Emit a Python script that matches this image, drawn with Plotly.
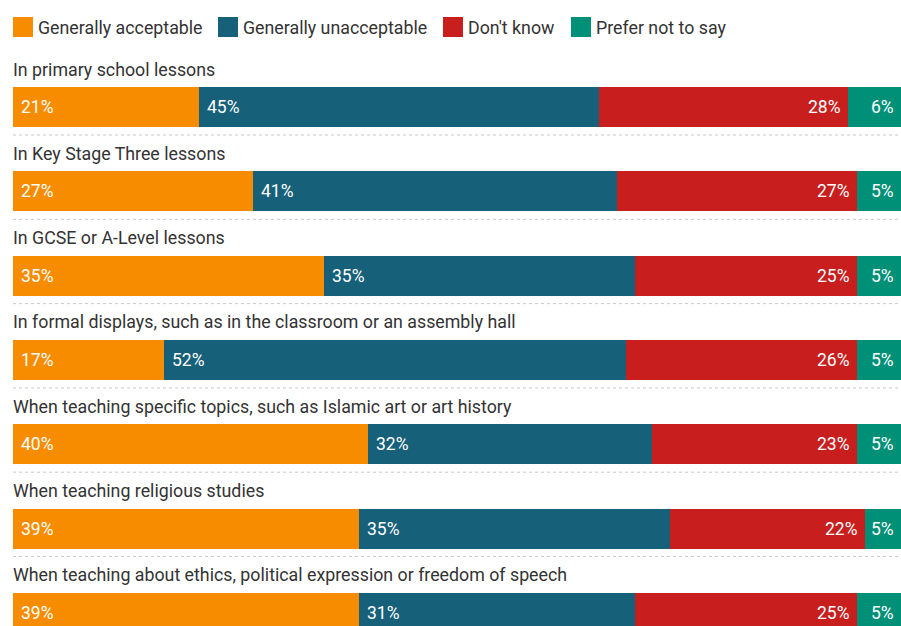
import plotly.graph_objects as go

# Survey responses: share of respondents (%) per context
categories = [
    "In primary school lessons",
    "In Key Stage Three lessons",
    "In GCSE or A-Level lessons",
    "In formal displays, such as in the classroom or an assembly hall",
    "When teaching specific topics, such as Islamic art or art history",
    "When teaching religious studies",
    "When teaching about ethics, political expression or freedom of speech",
]
series_names = ["Generally acceptable", "Generally unacceptable", "Don't know", "Prefer not to say"]
acceptable = [21, 27, 35, 17, 40, 39, 39]
unacceptable = [45, 41, 35, 52, 32, 35, 31]
dont_know = [28, 27, 25, 26, 23, 22, 25]
prefer_not = [6, 5, 5, 5, 5, 5, 5]

series_values = [acceptable, unacceptable, dont_know, prefer_not]
colors = ["#F88C00", "#17607A", "#C81E1E", "#009077"]

FONT = "Roboto"
TEXT_COLOR = "#333333"
W, H = 901, 626
ML, MT = 13, 45
ROW_PX = 84.3          # vertical distance between rows
FIRST_CENTER_PX = 107  # centre of first bar
BAR_PX = 40

rows = list(range(len(categories)))
y_top = -(FIRST_CENTER_PX - MT) / ROW_PX
y_bottom = (H - FIRST_CENTER_PX) / ROW_PX

fig = go.Figure()
annotations = []
shapes = []

base = [0] * len(categories)
for name, vals, col in zip(series_names, series_values, colors):
    fig.add_trace(go.Bar(
        y=rows, x=vals, base=base, orientation="h", name=name,
        marker=dict(color=col, line=dict(width=0)),
        width=BAR_PX / ROW_PX, showlegend=False, hoverinfo="x+name",
    ))
    left_aligned = name in ("Generally acceptable", "Generally unacceptable")
    for r, (b, v) in enumerate(zip(base, vals)):
        if left_aligned:
            annotations.append(dict(
                x=b, y=r, xref="x", yref="y", text=f"{v}%", showarrow=False,
                xanchor="left", xshift=6, yanchor="middle",
                font=dict(family=FONT, size=17.5, color="white")))
        else:
            annotations.append(dict(
                x=min(b + v, 100), y=r, xref="x", yref="y", text=f"{v}%", showarrow=False,
                xanchor="right", xshift=-5, yanchor="middle",
                font=dict(family=FONT, size=17.5, color="white")))
    base = [b + v for b, v in zip(base, vals)]

# Row titles above each bar and dotted separators below
for r, cat in enumerate(categories):
    annotations.append(dict(
        x=0, y=r - 38 / ROW_PX, xref="paper", yref="y", text=cat, showarrow=False,
        xanchor="left", xshift=-2, yanchor="middle",
        font=dict(family=FONT, size=17.8, color=TEXT_COLOR)))
    if r < len(categories) - 1:
        shapes.append(dict(
            type="line", xref="paper", yref="y", x0=0, x1=1,
            y0=r + 28 / ROW_PX, y1=r + 28 / ROW_PX,
            line=dict(color="#C8C8C8", width=1, dash="dot")))

# Legend row built from swatches and labels
plot_w = W - ML
plot_h = H - MT
swatch_px = [13, 218, 443, 571]
for name, col, sx in zip(series_names, colors, swatch_px):
    x0 = (sx - ML) / plot_w
    x1 = (sx + 20 - ML) / plot_w
    shapes.append(dict(
        type="rect", xref="paper", yref="paper", x0=x0, x1=x1,
        y0=1 + (MT - 37) / plot_h, y1=1 + (MT - 17) / plot_h,
        fillcolor=col, line=dict(width=0)))
    annotations.append(dict(
        x=(sx + 25 - ML) / plot_w, y=1 + (MT - 27) / plot_h, xref="paper", yref="paper",
        text=name, showarrow=False, xanchor="left", xshift=-2, yanchor="middle",
        font=dict(family=FONT, size=17.8, color=TEXT_COLOR)))

fig.update_layout(
    width=W, height=H,
    margin=dict(l=ML, r=0, t=MT, b=0, pad=0),
    paper_bgcolor="white", plot_bgcolor="white",
    barmode="overlay", bargap=0,
    xaxis=dict(range=[0, 100], visible=False, fixedrange=True),
    yaxis=dict(range=[y_bottom, y_top], visible=False, fixedrange=True),
    annotations=annotations, shapes=shapes,
    font=dict(family=FONT),
)

fig.write_html("out.html")
